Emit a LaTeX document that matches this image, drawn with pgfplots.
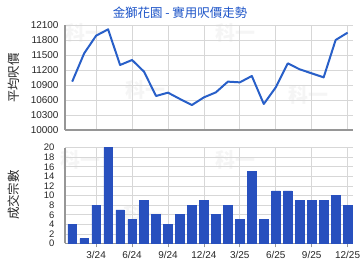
\documentclass[border=0pt]{standalone}
\usepackage{pgfplots}
\pgfplotsset{compat=1.18}
\usepackage{fontspec}
\setmainfont{Liberation Sans}
\newfontfamily\cjk{Noto Sans CJK TC}
\definecolor{lineblue}{RGB}{40,95,200}
\definecolor{titleblue}{RGB}{30,85,200}
\definecolor{bardark}{RGB}{40,80,190}
\definecolor{barlight}{RGB}{150,180,240}
\definecolor{gridgray}{RGB}{215,215,215}
\definecolor{axisgray}{RGB}{150,150,150}
\begin{document}
\begin{tikzpicture}[x=1bp,y=1bp]
\useasboundingbox (0,0) rectangle (360,270);
% watermarks
\foreach \p in {(85,237),(235,237),(145,180),(308,175),(80,110),(235,110),(143,55)}
  \node[text=black!4,font=\cjk\bfseries\fontsize{20}{20}\selectfont] at \p {科一};
\begin{axis}[
  at={(65bp,140bp)}, anchor=south west,
  width=288bp, height=105bp, scale only axis,
  xmin=-0.6, xmax=23.45, ymin=10000, ymax=12100,
  ytick={10000,10300,10600,10900,11200,11500,11800,12100},
  scaled y ticks=false,
  xtick={2,5,8,11,14,17,20,23}, xticklabels={},
  grid=major, major grid style={gridgray, line width=0.8pt},
  axis lines*=left, axis line style={axisgray, line width=1.3pt, -},
  major tick length=0pt,
  tick label style={font=\fontsize{10}{12}\selectfont, text=black!85},
  /pgf/number format/assume math mode=true,
  yticklabel style={/pgf/number format/1000 sep={}, xshift=-3bp},
  clip=false,
]
\addplot[lineblue, line width=2pt, line join=round] coordinates {
(0,10967)(1,11533)(2,11887)(3,12013)(4,11300)(5,11400)(6,11167)(7,10680)
(8,10747)(9,10620)(10,10500)(11,10653)(12,10753)(13,10967)(14,10953)(15,11080)
(16,10520)(17,10853)(18,11333)(19,11213)(20,11133)(21,11053)(22,11800)(23,11947)};
\end{axis}
\begin{axis}[
  at={(65bp,26.5bp)}, anchor=south west,
  width=288bp, height=95.8bp, scale only axis,
  xmin=-0.6, xmax=23.45, ymin=0, ymax=20,
  ytick={0,2,...,20},
  xtick={2,5,8,11,14,17,20,23},
  xticklabels={3/24,6/24,9/24,12/24,3/25,6/25,9/25,12/25},
  grid=major, major grid style={gridgray, line width=0.8pt},
  axis lines*=left, axis line style={axisgray, line width=1.3pt, -},
  ytick style={draw=none},
  xtick style={axisgray, line width=0.8pt},
  major tick length=4bp, tick align=outside,
  tick label style={font=\fontsize{10}{12}\selectfont, text=black!85},
  yticklabel style={font=\fontsize{9.5}{10}\selectfont, xshift=-3bp},
  /pgf/number format/assume math mode=true,
]
\addplot[ybar, bar width=8.5bp, bar shift=0pt, draw=bardark, line width=0.6pt,
  left color=bardark, middle color=barlight, right color=bardark] coordinates {
(0,4)(1,1)(2,8)(3,20)(4,7)(5,5)(6,9)(7,6)(8,4)(9,6)(10,8)(11,9)
(12,6)(13,8)(14,5)(15,15)(16,5)(17,11)(18,11)(19,9)(20,9)(21,9)(22,10)(23,8)};
\end{axis}
\node[text=titleblue,font=\cjk\fontsize{12.5}{13}\selectfont] at (180,257) {金獅花園 - 實用呎價走勢};
\node[rotate=90,font=\cjk\fontsize{12.5}{13}\selectfont,text=black!85] at (14,192) {平均呎價};
\node[rotate=90,font=\cjk\fontsize{12.5}{13}\selectfont,text=black!85] at (14,75) {成交宗數};
\end{tikzpicture}
\end{document}
